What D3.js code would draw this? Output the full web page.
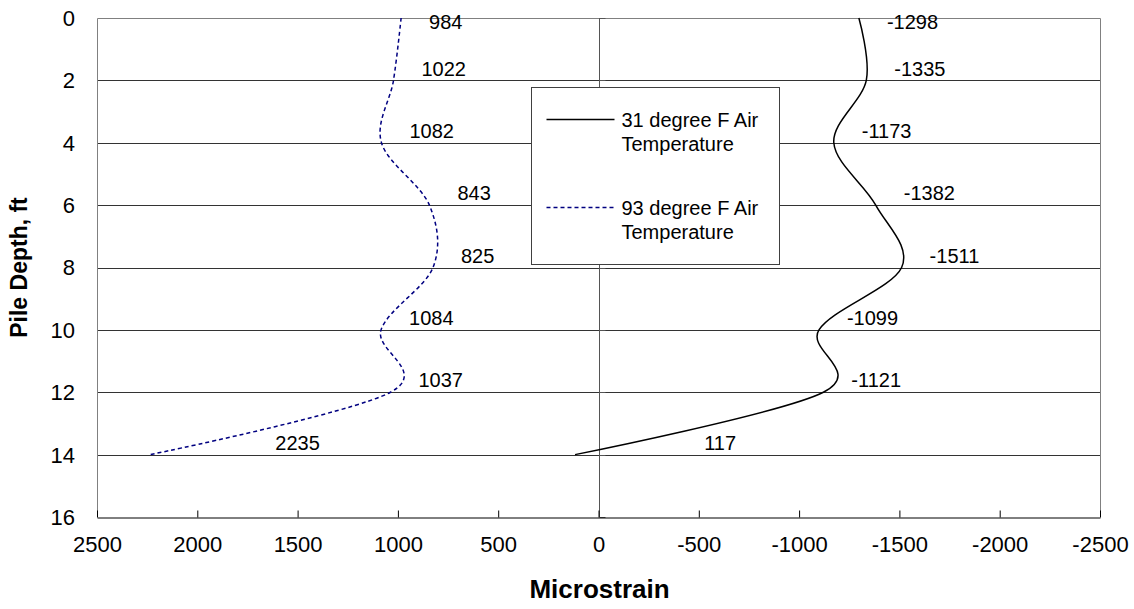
<!DOCTYPE html>
<html>
<head>
<meta charset="utf-8">
<script src="https://cdn.jsdelivr.net/npm/d3@7"></script>
<style>
  body { margin: 0; background: #fff; }
  text { font-family: "Liberation Sans", Arial, sans-serif; }
</style>
</head>
<body>
<svg id="chart"></svg>
<script>
// Pile strain vs depth, two air temperatures
const depths = [0, 2, 4, 6, 8, 10, 12, 14];
const strain31 = [-1298, -1335, -1173, -1382, -1511, -1099, -1121, 117];
const strain93 = [984, 1022, 1082, 843, 825, 1084, 1037, 2235];
const seriesNames = ["31 degree F Air Temperature", "93 degree F Air Temperature"];
const xTicks = [2500, 2000, 1500, 1000, 500, 0, -500, -1000, -1500, -2000, -2500];
const yTicks = [0, 2, 4, 6, 8, 10, 12, 14, 16];

const width = 1134, height = 609;
const plotL = 97, plotR = 1100, plotT = 18, plotB = 517;

const svg = d3.select("#chart").attr("width", width).attr("height", height);

const x = d3.scaleLinear().domain([2500, -2500]).range([plotL, plotR]);
const y = d3.scaleLinear().domain([0, 16]).range([plotT, plotB]);

// horizontal gridlines
svg.append("g")
  .selectAll("line")
  .data(yTicks.filter(t => t > 0 && t < 16))
  .join("line")
  .attr("x1", plotL).attr("x2", plotR)
  .attr("y1", d => Math.round(y(d)) + 0.5).attr("y2", d => Math.round(y(d)) + 0.5)
  .attr("stroke", "#333").attr("stroke-width", 1);

// plot border (left, top, right)
svg.append("path")
  .attr("d", `M${plotL + 0.5},${plotB}V${plotT + 0.5}H${plotR + 0.5}V${plotB}`)
  .attr("fill", "none").attr("stroke", "#808080").attr("stroke-width", 1);

// vertical value axis at zero, ticks pointing right
const x0 = Math.round(x(0)) + 0.5;
svg.append("line")
  .attr("x1", x0).attr("x2", x0).attr("y1", plotT).attr("y2", plotB)
  .attr("stroke", "#555");
svg.append("g").selectAll("line")
  .data(yTicks)
  .join("line")
  .attr("x1", x0).attr("x2", x0 + 6)
  .attr("y1", d => Math.round(y(d)) + 0.5).attr("y2", d => Math.round(y(d)) + 0.5)
  .attr("stroke", "#555");

// y tick labels on the left
svg.append("g").selectAll("text")
  .data(yTicks)
  .join("text")
  .attr("x", 75).attr("y", d => y(d))
  .attr("dy", "0.36em")
  .attr("text-anchor", "end")
  .attr("font-size", 22)
  .text(d => d);

// bottom axis
const xAxis = d3.axisBottom(x)
  .tickValues(xTicks)
  .tickFormat(d => String(d))
  .tickSizeInner(-7).tickSizeOuter(0).tickPadding(19);
const gx = svg.append("g")
  .attr("transform", `translate(0,${plotB + 0.5})`)
  .call(xAxis);
gx.select(".domain").attr("stroke", "#000");
gx.selectAll(".tick line").attr("stroke", "#000");
gx.selectAll(".tick text")
  .attr("font-size", 22)
  .attr("font-family", "Liberation Sans, Arial, sans-serif")
  .attr("fill", "#000");

// axis titles
svg.append("text")
  .attr("x", (plotL + plotR) / 2 + 1).attr("y", 598)
  .attr("text-anchor", "middle")
  .attr("font-size", 26).attr("font-weight", "bold")
  .text("Microstrain");
svg.append("text")
  .attr("transform", `translate(27,${(plotT + plotB) / 2}) rotate(-90)`)
  .attr("text-anchor", "middle")
  .attr("font-size", 23).attr("font-weight", "bold")
  .text("Pile Depth, ft");

// series
const series = [
  { name: seriesNames[0], values: strain31, color: "#000", dash: null },
  { name: seriesNames[1], values: strain93, color: "#000080", dash: "4,3" }
];

const line = d3.line()
  .x(d => x(d[0]))
  .y(d => y(d[1]))
  .curve(d3.curveCatmullRom.alpha(0));

series.forEach(s => {
  const pts = s.values.map((v, i) => [v, depths[i]]);
  svg.append("path")
    .datum(pts)
    .attr("d", line)
    .attr("fill", "none")
    .attr("stroke", s.color)
    .attr("stroke-width", 1.5)
    .attr("stroke-dasharray", s.dash);

  // labels sit above-right of each point; where the incoming segment is
  // shallow the label moves to the middle of it so it doesn't sit on the line
  svg.append("g").selectAll("text")
    .data(pts)
    .join("text")
    .attr("x", (d, i) => {
      const px = x(d[0]);
      if (i > 0) {
        const p = pts[i - 1];
        const dx = px - x(p[0]), dy = y(d[1]) - y(p[1]);
        if (Math.abs(dx) > Math.abs(dy) * 2) return (px + x(p[0])) / 2 + 5;
      }
      return px + 28;
    })
    .attr("y", d => Math.max(y(d[1]) - 12, plotT + 4))
    .attr("dy", "0.36em")
    .attr("font-size", 20)
    .text(d => d[0]);
});

// legend
const lg = svg.append("g").attr("transform", "translate(531.5,87.5)");
lg.append("rect")
  .attr("width", 248).attr("height", 177)
  .attr("fill", "#fff").attr("stroke", "#404040");
series.forEach((s, i) => {
  const cy = 32 + i * 88;
  lg.append("line")
    .attr("x1", 15).attr("x2", 83).attr("y1", cy).attr("y2", cy)
    .attr("stroke", s.color).attr("stroke-width", 1.5)
    .attr("stroke-dasharray", s.dash);
  const words = s.name.split(" ");
  const t = lg.append("text")
    .attr("x", 90).attr("y", cy)
    .attr("font-size", 20);
  t.append("tspan").attr("x", 90).attr("dy", "0.36em").text(words.slice(0, 4).join(" "));
  t.append("tspan").attr("x", 90).attr("dy", "1.2em").text(words.slice(4).join(" "));
});
</script>
</body>
</html>
